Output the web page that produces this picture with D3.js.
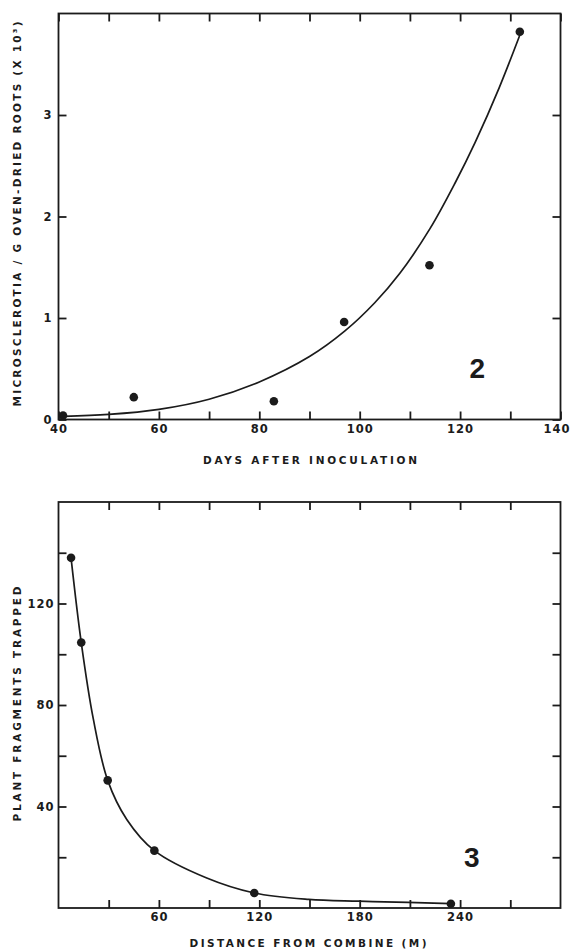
<!DOCTYPE html>
<html>
<head>
<meta charset="utf-8">
<script src="https://cdn.jsdelivr.net/npm/d3@7"></script>
<style>
  body { margin: 0; background: #fff; }
  svg text { font-family: "DejaVu Sans", sans-serif; fill: #1b1b1b; }
</style>
</head>
<body>
<svg id="fig" width="571" height="951"></svg>
<script>
// Fig. 2: microsclerotia per g of roots vs days after inoculation
const daysObs  = [40.9, 55, 82.9, 96.9, 113.9, 131.9];
const microObs = [0.04, 0.22, 0.18, 0.96, 1.52, 3.82];
// fitted curve
const daysFit  = [41, 50, 60, 70, 80, 90, 97, 103, 108, 114, 119, 123, 127.8, 132];
const microFit = [0.03, 0.05, 0.1, 0.2, 0.37, 0.62, 0.87, 1.15, 1.44, 1.88, 2.33, 2.73, 3.27, 3.8];
const daysTicks  = [40, 50, 60, 70, 80, 90, 100, 110, 120, 130, 140];
const daysLabels = [40, 60, 80, 100, 120, 140];
const microTicks  = [0, 1, 2, 3];
const microLabels = [0, 1, 2, 3];

// Fig. 3: plant fragments trapped vs distance from combine
const distObs = [7.5, 13.6, 29.4, 57.3, 117, 234.5];
const fragObs = [138, 104.6, 50.3, 22.6, 5.9, 1.7];
const distFit = [7.5, 13.6, 20.8, 29.4, 40.8, 57.3, 88.6, 117, 149.5, 179.4, 208.8, 234.5];
const fragFit = [138, 104.6, 74.5, 50.3, 34.9, 22.6, 11.8, 5.9, 3.4, 2.7, 2.2, 1.7];
const distTicks  = [30, 60, 90, 120, 150, 180, 210, 240, 270];
const distLabels = [60, 120, 180, 240];
const fragTicks  = [20, 40, 60, 80, 100, 120, 140];
const fragLabels = [40, 80, 120];

const svg = d3.select('#fig');
const ink = '#1b1b1b';

function drawPanel(p) {
    const x = d3.scaleLinear().domain(p.xDomain).range([p.left, p.right]);
    const y = d3.scaleLinear().domain(p.yDomain).range([p.bottom, p.top]);
    const g = svg.append('g');

    // frame
    g.append('rect')
        .attr('x', p.left).attr('y', p.top)
        .attr('width', p.right - p.left).attr('height', p.bottom - p.top)
        .attr('fill', 'none').attr('stroke', ink).attr('stroke-width', 1.8);

    const fmtX = d => p.xLabels.includes(d) ? d : '';
    const fmtY = d => p.yLabels.includes(d) ? d : '';

    // inward ticks on all four sides
    const axes = [
        g.append('g').attr('class', 'xb').attr('transform', `translate(0,${p.bottom})`)
            .call(d3.axisBottom(x).tickValues(p.xTicks).tickSize(-8).tickPadding(p.xPad).tickFormat(fmtX)),
        g.append('g').attr('transform', `translate(0,${p.top})`)
            .call(d3.axisTop(x).tickValues(p.xTicks).tickSize(-8).tickFormat('')),
        g.append('g').attr('transform', `translate(${p.left},0)`)
            .call(d3.axisLeft(y).tickValues(p.yTicks).tickSize(-8).tickPadding(p.yPad).tickFormat(fmtY)),
        g.append('g').attr('transform', `translate(${p.right},0)`)
            .call(d3.axisRight(y).tickValues(p.yTicks).tickSize(-8).tickFormat(''))
    ];
    axes.forEach(a => {
        a.select('.domain').remove();
        a.selectAll('line').attr('stroke', ink).attr('stroke-width', 1.8);
        a.selectAll('text')
            .attr('font-family', '"DejaVu Sans", sans-serif')
            .attr('font-size', 11.5).attr('font-weight', 'bold')
            .attr('letter-spacing', 1).attr('fill', ink);
    });
    // keep the last x label inside the page, as in the original
    if (p.lastLabelShift) {
        axes[0].selectAll('.tick text').filter(d => d === p.xDomain[1])
            .attr('dx', p.lastLabelShift);
    }

    // fitted curve
    const line = d3.line().x(d => x(d[0])).y(d => y(d[1])).curve(d3.curveCatmullRom.alpha(0.5));
    g.append('path')
        .datum(p.fitX.map((v, i) => [v, p.fitY[i]]))
        .attr('d', line)
        .attr('fill', 'none').attr('stroke', ink).attr('stroke-width', 1.7);

    // observed points
    g.selectAll('circle.obs')
        .data(p.obsX.map((v, i) => [v, p.obsY[i]]))
        .enter().append('circle')
        .attr('class', 'obs')
        .attr('cx', d => x(d[0])).attr('cy', d => y(d[1]))
        .attr('r', 4.3).attr('fill', ink);

    // panel number
    g.append('text')
        .attr('x', x(p.numAt[0])).attr('y', y(p.numAt[1]))
        .attr('text-anchor', 'middle').attr('dominant-baseline', 'central')
        .style('font-family', '"Liberation Sans", Arial, sans-serif')
        .attr('font-size', 28).attr('font-weight', 'bold')
        .text(p.num);

    // axis titles
    g.append('text')
        .attr('x', p.xTitlePos[0]).attr('y', p.xTitlePos[1])
        .attr('text-anchor', 'middle').attr('dominant-baseline', 'central')
        .attr('font-size', 10.5).attr('font-weight', 'bold')
        .attr('textLength', p.xTitleLen).attr('lengthAdjust', 'spacing')
        .text(p.xTitle);
    g.append('text')
        .attr('transform', `translate(${p.yTitlePos[0]},${p.yTitlePos[1]}) rotate(-90)`)
        .attr('text-anchor', 'middle').attr('dominant-baseline', 'central')
        .attr('font-size', 10.5).attr('font-weight', 'bold')
        .attr('textLength', p.yTitleLen).attr('lengthAdjust', 'spacing')
        .text(p.yTitle);
}

drawPanel({
    left: 58.5, right: 560.5, top: 13.5, bottom: 419.5,
    xDomain: [40, 140], yDomain: [0, 4],
    xTicks: daysTicks, xLabels: daysLabels, yTicks: microTicks, yLabels: microLabels,
    xPad: 5, yPad: 6, lastLabelShift: -4,
    obsX: daysObs, obsY: microObs, fitX: daysFit, fitY: microFit,
    num: '2', numAt: [123.4, 0.5],
    xTitle: 'DAYS  AFTER  INOCULATION', xTitlePos: [310, 460], xTitleLen: 214,
    yTitle: 'MICROSCLEROTIA / G   OVEN-DRIED   ROOTS   (X 10³)', yTitlePos: [17, 214], yTitleLen: 385
});

drawPanel({
    left: 58.5, right: 560.5, top: 502, bottom: 908,
    xDomain: [0, 300], yDomain: [0, 160],
    xTicks: distTicks, xLabels: distLabels, yTicks: fragTicks, yLabels: fragLabels,
    xPad: 5, yPad: 4,
    obsX: distObs, obsY: fragObs, fitX: distFit, fitY: fragFit,
    num: '3', numAt: [247, 20],
    xTitle: 'DISTANCE  FROM  COMBINE  (M)', xTitlePos: [308, 943], xTitleLen: 237,
    yTitle: 'PLANT  FRAGMENTS  TRAPPED', yTitlePos: [17, 704], yTitleLen: 235
});
</script>
</body>
</html>
